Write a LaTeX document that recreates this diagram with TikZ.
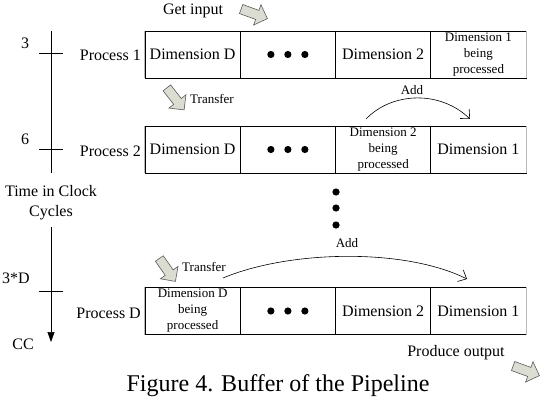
\documentclass[tikz,border=0pt]{standalone}
\usepackage{fontspec}
\setmainfont{Liberation Serif}
\usetikzlibrary{arrows.meta,shapes.arrows}
\definecolor{arrfill}{HTML}{DCDDD2}
\definecolor{arrdraw}{HTML}{5A5A5A}
\begin{document}
\begin{tikzpicture}[x=1pt,y=-1pt,
  cell/.style={draw=black, line width=0.7pt, minimum width=95.25pt, minimum height=47pt,
    inner sep=0pt, align=center, font=\fontsize{16}{19}\selectfont},
  small/.style={font=\fontsize{13}{16}\selectfont},
  lbl/.style={font=\fontsize{16}{20}\selectfont, inner sep=0pt, align=center},
  slbl/.style={font=\fontsize{13}{16}\selectfont, inner sep=0pt},
  barrow/.style={single arrow, draw=arrdraw, fill=arrfill, line width=0.6pt,
    minimum height=28pt, inner sep=4.5pt, single arrow head extend=6pt},
  axis/.style={line width=0.7pt, draw=black},
  addarc/.style={line width=0.6pt, -{Straight Barb[length=7pt,width=13pt]}},
  edge/.style={draw=gray!55, line width=0.7pt}
]
\useasboundingbox (0,0) rectangle (540,404);

% ---- rows of cells
\node[cell] (r1c1) at (192.625,54.5) {Dimension D};
\node[cell] (r1c2) at (287.875,54.5) {};
\node[cell] (r1c3) at (383.125,54.5) {Dimension 2};
\node[cell,small] (r1c4) at (478.375,54.5) {Dimension 1\\being\\processed};

\node[cell] (r2c1) at (192.625,149.5) {Dimension D};
\node[cell] (r2c2) at (287.875,149.5) {};
\node[cell,small] (r2c3) at (383.125,149.5) {Dimension 2\\being\\processed};
\node[cell] (r2c4) at (478.375,149.5) {Dimension 1};

\node[cell,small] (r3c1) at (192.625,311) {Dimension D\\being\\processed};
\node[cell] (r3c2) at (287.875,311) {};
\node[cell] (r3c3) at (383.125,311) {Dimension 2};
\node[cell] (r3c4) at (478.375,311) {Dimension 1};

\foreach \r in {1,2,3}{
  \draw[edge] (r\r c1.north west) -- (r\r c1.south west);
  \draw[edge] (r\r c4.north east) -- (r\r c4.south east);
  \foreach \dx in {-17,0,17}{
    \fill ([xshift=\dx pt]r\r c2.center) circle (3.6pt);
  }
}

% ---- vertical dots
\node[inner sep=0pt] (vd) at (336,208) {};
\fill (336,192) circle (3.6pt);
\fill (vd) circle (3.6pt);
\fill (336,225) circle (3.6pt);

% ---- process labels
\node[lbl, anchor=east] (p1) at (141,55) {Process 1};
\node[lbl, anchor=east] (p2) at (141,151) {Process 2};
\node[lbl, anchor=east] (pd) at (141,313) {Process D};

% ---- time axis
\coordinate (ax1) at (51,31);
\coordinate (ax2) at (51,173);
\coordinate (ax3) at (51,227);
\coordinate (ax4) at (51,342);
\draw[axis] (ax1) -- (ax2);
\draw[axis, -{Triangle[length=10pt,width=7pt]}] (ax3) -- (ax4);
\foreach \ty/\nm in {53/t1,149/t2,291/t3}{
  \coordinate (\nm a) at (39,\ty);
  \coordinate (\nm b) at (63,\ty);
  \draw[axis] (\nm a) -- (\nm b);
}
\node[lbl] (l3) at (25,43) {3};
\node[lbl] (l6) at (25,139) {6};
\node[lbl] (l3d) at (16,278) {3*D};
\node[lbl] (lcc) at (23,344) {CC};
\node[lbl] (tcc) at (51,203) {Time in Clock\\Cycles};

% ---- block arrows and their labels
\node[lbl] (gi) at (193,11) {Get input};
\node[barrow, rotate=-20] (gia) at (252,13) {};
\node[slbl] (tr1) at (212,99) {Transfer};
\node[barrow, rotate=-52] (tr1a) at (174,97) {};
\node[slbl] (tr3) at (204,267) {Transfer};
\node[barrow, rotate=-55] (tr3a) at (166,268) {};
\node[lbl] (po) at (456,353) {Produce output};
\node[barrow, rotate=-20] (poa) at (524,370) {};

% ---- add arcs
\coordinate (a1s) at (366,119);
\coordinate (a1e) at (470,119);
\draw[addarc] (a1s) .. controls (392,92) and (440,90) .. (a1e);
\node[slbl] (add1) at (412,90) {Add};
\coordinate (a2s) at (223,278);
\coordinate (a2e) at (467,279);
\draw[addarc] (a2s) .. controls (290,250) and (405,248) .. (a2e);
\node[slbl] (add2) at (347,243) {Add};

% ---- caption
\node[inner sep=0pt, font=\fontsize{24}{28}\selectfont] (cap) at (278,386) {Figure 4. Buffer of the Pipeline};
\end{tikzpicture}
\end{document}
